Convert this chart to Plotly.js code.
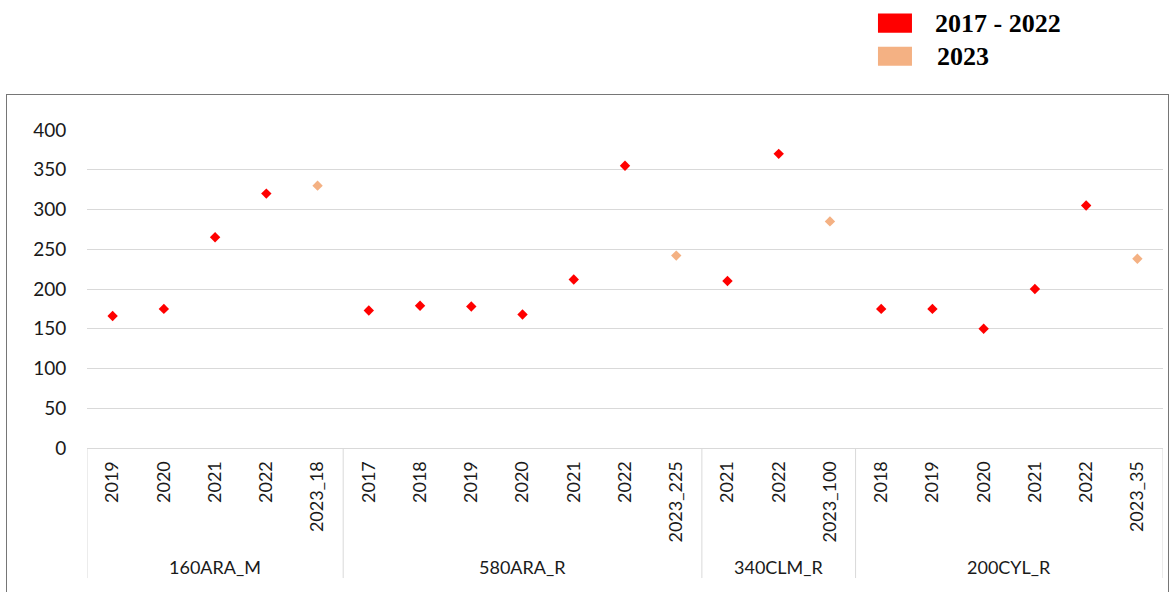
<!DOCTYPE html>
<html>
<head>
<meta charset="utf-8">
<script src="https://cdn.plot.ly/plotly-3.0.1.min.js"></script>
<style>
  html, body { margin: 0; padding: 0; background: #fff; }
  #wrap { position: relative; width: 1169px; height: 592px; overflow: hidden; }
  #chart { position: absolute; left: 0; top: 0; width: 1169px; height: 592px; }
  #frame { position: absolute; left: 6px; top: 94px; width: 1161px; height: 520px;
           border: 1px solid #767676; pointer-events: none; }
</style>
</head>
<body>
<div id="wrap">
  <div id="chart"></div>
  <div id="frame"></div>
</div>
<script>
// ---- data ----
const categoryGroup = [
  "160ARA_M","160ARA_M","160ARA_M","160ARA_M","160ARA_M",
  "580ARA_R","580ARA_R","580ARA_R","580ARA_R","580ARA_R","580ARA_R","580ARA_R",
  "340CLM_R","340CLM_R","340CLM_R",
  "200CYL_R","200CYL_R","200CYL_R","200CYL_R","200CYL_R","200CYL_R"
];
const categoryLabel = [
  "2019","2020","2021","2022","2023_18",
  "2017","2018","2019","2020","2021","2022","2023_225",
  "2021","2022","2023_100",
  "2018","2019","2020","2021","2022","2023_35"
];
const values2017to2022 = [
  166, 175, 265, 320, null,
  173, 179, 178, 168, 212, 355, null,
  210, 370, null,
  175, 175, 150, 200, 305, null
];
const values2023 = [
  null, null, null, null, 330,
  null, null, null, null, null, null, 242,
  null, null, 285,
  null, null, null, null, null, 238
];
const seriesNames = ["2017 - 2022", "2023"];
const seriesColors = ["#FF0000", "#F4B183"];
const yTickValues = [0, 50, 100, 150, 200, 250, 300, 350, 400];

// ---- chart ----
const FONT = "Lato, 'Open Sans', sans-serif";
// unique category ids (group + label) so repeated years stay distinct
const xIds = categoryGroup.map((g, i) => g + " | " + categoryLabel[i]);

const traces = [values2017to2022, values2023].map((vals, i) => ({
  type: "scatter",
  mode: "markers",
  name: seriesNames[i],
  x: xIds,
  y: vals,
  marker: { symbol: "diamond", size: 8, color: seriesColors[i] },
  showlegend: false,
  hoverinfo: "x+y"
}));

// group spans derived from the category arrays
const groupSpans = [];
categoryGroup.forEach((g, i) => {
  const last = groupSpans[groupSpans.length - 1];
  if (last && last.name === g) last.end = i;
  else groupSpans.push({ name: g, start: i, end: i });
});

const dividerBottom = -0.409;   // paper y of divider ends (below axis)
const groupLabelY = -0.374;     // paper y of group labels

const shapes = [];
groupSpans.forEach(s => {
  shapes.push({ type: "line", xref: "x", yref: "paper",
    x0: s.start - 0.5, x1: s.start - 0.5, y0: 0, y1: dividerBottom,
    line: { color: "#D9D9D9", width: 1 } });
});
shapes.push({ type: "line", xref: "x", yref: "paper",
  x0: categoryLabel.length - 0.5, x1: categoryLabel.length - 0.5, y0: 0, y1: dividerBottom,
  line: { color: "#D9D9D9", width: 1 } });

const annotations = groupSpans.map(s => ({
  xref: "x", yref: "paper", x: (s.start + s.end) / 2, y: groupLabelY,
  xanchor: "center", yanchor: "middle", showarrow: false,
  text: s.name, font: { family: FONT, size: 18, color: "#1a1a1a" }
}));

// legend drawn as swatches + text in paper coordinates (above plot area)
const rowY = [1.336, 1.232];
seriesNames.forEach((n, i) => {
  shapes.push({
    type: "rect", xref: "paper", yref: "paper",
    x0: 0.7351, x1: 0.7667, y0: rowY[i] - 0.030, y1: rowY[i] + 0.030,
    fillcolor: seriesColors[i], line: { width: 0 }
  });
  annotations.push({
    xref: "paper", yref: "paper", x: i === 0 ? 0.786 : 0.788, y: rowY[i],
    xanchor: "left", yanchor: "middle", showarrow: false,
    text: "<b>" + n + "</b>",
    font: { family: "Liberation Serif, Times New Roman, serif", size: 26, color: "#000" }
  });
});

const layout = {
  width: 1169, height: 592,
  margin: { l: 87, r: 6, t: 130, b: 144 },
  paper_bgcolor: "rgba(0,0,0,0)",
  plot_bgcolor: "rgba(0,0,0,0)",
  font: { family: FONT, size: 18, color: "#1a1a1a" },
  xaxis: {
    type: "category",
    range: [-0.5, categoryLabel.length - 0.5],
    autorange: false,
    tickmode: "array",
    tickvals: xIds,
    ticktext: categoryLabel,
    showline: true, linecolor: "#D9D9D9", linewidth: 1,
    showgrid: false, zeroline: false,
    tickangle: -90,
    ticks: "outside", ticklen: 5, tickcolor: "rgba(0,0,0,0)",
    tickfont: { family: FONT, size: 18, color: "#1a1a1a" }
  },
  yaxis: {
    range: [0, 400],
    tickvals: yTickValues,
    showgrid: true, gridcolor: "#D9D9D9", gridwidth: 1,
    zeroline: false, showline: false,
    ticks: "outside", ticklen: 16, tickcolor: "rgba(0,0,0,0)",
    tickfont: { family: FONT, size: 19, color: "#1a1a1a" }
  },
  shapes: shapes,
  annotations: annotations,
  showlegend: false
};

Plotly.newPlot("chart", traces, layout, { displayModeBar: false, staticPlot: true });
</script>
</body>
</html>
